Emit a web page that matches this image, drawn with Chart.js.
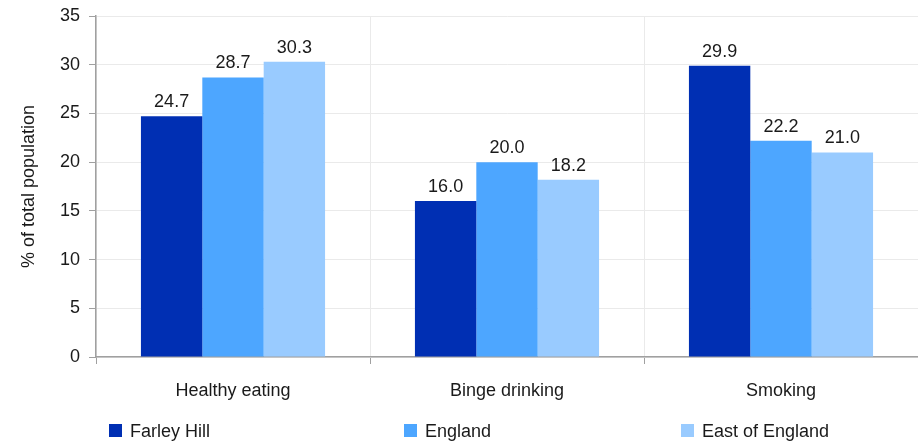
<!DOCTYPE html>
<html>
<head>
<meta charset="utf-8">
<script src="https://cdn.jsdelivr.net/npm/chart.js@4/dist/chart.umd.min.js"></script>
<style>
    body { margin: 0; background: #fff; }
    #wrap { width: 918px; height: 443px; }
</style>
</head>
<body>
<div id="wrap"><canvas id="lifestyle-chart" width="918" height="443"></canvas></div>
<script>
const categories = ["Healthy eating", "Binge drinking", "Smoking"];
const seriesNames = ["Farley Hill", "England", "East of England"];
const farleyHill = [24.7, 16.0, 29.9];
const england = [28.7, 20.0, 22.2];
const eastOfEngland = [30.3, 18.2, 21.0];
const yTicks = [0, 5, 10, 15, 20, 25, 30, 35];

const colors = ["#002fb3", "#4da6ff", "#99cbff"];
const fontFamily = "'Liberation Sans', Arial, sans-serif";
const textColor = "#1a1a1a";

const lifestyleChartCanvas = document.querySelector("#lifestyle-chart");

// value labels above each bar
const valueLabels = {
    id: "valueLabels",
    afterDatasetsDraw(chart) {
        const ctx = chart.ctx;
        ctx.save();
        ctx.font = "18px " + fontFamily;
        ctx.fillStyle = textColor;
        ctx.textAlign = "center";
        ctx.textBaseline = "alphabetic";
        chart.data.datasets.forEach((ds, i) => {
            chart.getDatasetMeta(i).data.forEach((bar, j) => {
                ctx.fillText(ds.data[j].toFixed(1), bar.x, bar.y - 9);
            });
        });
        ctx.restore();
    }
};

// legend laid out in columns along the bottom
const legendColumns = [109, 404, 681];
const bottomLegend = {
    id: "bottomLegend",
    afterDraw(chart) {
        const ctx = chart.ctx;
        ctx.save();
        ctx.font = "18px " + fontFamily;
        ctx.textBaseline = "middle";
        ctx.textAlign = "left";
        chart.data.datasets.forEach((ds, i) => {
            const x = legendColumns[i];
            ctx.fillStyle = ds.backgroundColor;
            ctx.fillRect(x, 424, 13, 13);
            ctx.fillStyle = textColor;
            ctx.fillText(ds.label, x + 21, 432);
        });
        ctx.restore();
    }
};

const seriesValues = [farleyHill, england, eastOfEngland];

const barChartConfig = {
    type: "bar",
    data: {
        labels: categories,
        datasets: seriesNames.map((name, i) => ({
            label: name,
            data: seriesValues[i],
            backgroundColor: colors[i],
            borderWidth: 0,
            categoryPercentage: 0.672,
            barPercentage: 1.0,
        }))
    },
    options: {
        responsive: false,
        animation: false,
        devicePixelRatio: 1,
        layout: { padding: { top: 16, right: 0, left: 0, bottom: 0 } },
        plugins: {
            legend: { display: false },
            tooltip: { enabled: false },
        },
        scales: {
            x: {
                grid: {
                    color: "#eaeaea",
                    tickColor: "#a0a0a0",
                    tickLength: 7,
                    offset: true,
                },
                border: { color: "#a0a0a0", width: 1.5 },
                ticks: {
                    color: textColor,
                    font: { family: fontFamily, size: 18 },
                    padding: 16,
                    maxRotation: 0,
                },
                afterFit(scale) {
                    scale.height = 86;
                    scale.paddingLeft = 0;
                    scale.paddingRight = 0;
                }
            },
            y: {
                min: 0,
                max: 35,
                afterBuildTicks(scale) {
                    scale.ticks = yTicks.map(v => ({ value: v }));
                },
                grid: {
                    color: "#eaeaea",
                    tickColor: "#a0a0a0",
                    tickLength: 7,
                },
                border: { color: "#a0a0a0", width: 1.5 },
                ticks: {
                    color: textColor,
                    font: { family: fontFamily, size: 18 },
                    padding: 9,
                },
                title: {
                    display: true,
                    text: "% of total population",
                    color: textColor,
                    font: { family: fontFamily, size: 18 },
                    padding: { top: 18, bottom: 0 },
                },
                afterFit(scale) {
                    scale.width = 96;
                    scale.paddingTop = 0;
                    scale.paddingBottom = 0;
                }
            }
        }
    },
    plugins: [valueLabels, bottomLegend]
};

const lifestyleChart = new Chart(lifestyleChartCanvas, barChartConfig);
</script>
</body>
</html>
